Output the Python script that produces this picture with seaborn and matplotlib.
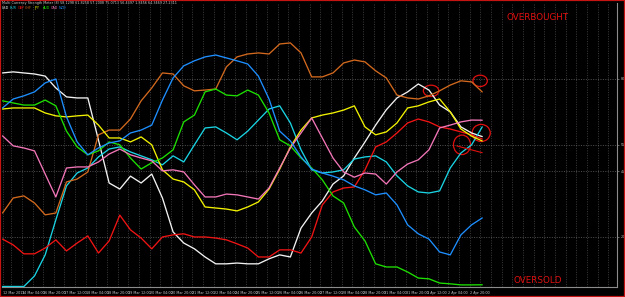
import matplotlib
matplotlib.use("Agg")
import matplotlib.pyplot as plt
import numpy as np
import pandas as pd
import seaborn as sns
from matplotlib.patches import Ellipse, Rectangle

# ---------------- data ----------------
currencies = ["USD", "EUR", "GBP", "CHF", "JPY", "AUD", "CAD", "NZD"]
colors = ["#f2f2f2", "#1ad3e3", "#f01414", "#d2691e", "#f2f200", "#1ee000", "#f276b8", "#1e8fff"]

bars = list(range(46))

usd = [82.3, 82.7, 82.3, 81.9, 81.1, 76.6, 73.2, 72.8, 72.8, 56.8, 40.5, 38.2, 43.1, 40.5, 43.9, 34.8,
       21.9, 17.7, 15.5, 12.4, 9.8, 9.8, 10.1, 9.8, 9.8, 11.7, 13.2, 12.4, 23.4, 29.1, 33.7, 40.1,
       43.2, 50.0, 56.1, 62.5, 68.3, 72.8, 75.1, 78.1, 75.8, 70.1, 67.5, 61.8, 59.5, 58.1298]
eur = [1.2, 1.2, 1.2, 5.2, 13.2, 26.5, 39.4, 44.3, 46.2, 50.4, 53.4, 54.2, 52.3, 50.8, 49.3, 47.4,
       50.8, 48.5, 55.0, 61.4, 61.8, 59.5, 56.9, 60.2, 64.4, 68.6, 69.8, 63.3, 53.1, 45.5, 44.3, 44.7,
       45.5, 49.6, 50.4, 50.8, 48.5, 43.2, 39.4, 37.1, 36.7, 37.5, 46.2, 51.9, 55.0, 61.8258]
gbp = [19.2, 17.0, 13.6, 13.6, 15.8, 18.9, 14.7, 17.7, 20.4, 13.9, 18.5, 28.3, 22.7, 19.6, 15.5, 20.0,
       20.8, 21.2, 20.0, 20.0, 19.6, 18.9, 17.4, 15.8, 12.4, 12.4, 15.1, 15.1, 13.9, 20.0, 32.2, 37.1,
       38.6, 39.0, 45.5, 54.2, 56.1, 59.5, 63.3, 64.8, 63.7, 61.8, 61.0, 59.9, 58.8, 57.2008]
chf = [29.1, 34.8, 35.6, 32.9, 28.4, 29.1, 40.9, 42.0, 44.7, 58.8, 60.6, 60.6, 64.8, 71.7, 76.6, 82.3,
       81.9, 77.4, 75.5, 75.8, 76.2, 84.6, 88.4, 89.5, 89.9, 89.5, 93.3, 93.7, 89.9, 80.8, 80.8, 82.3,
       86.1, 87.2, 86.5, 83.1, 80.4, 73.9, 72.8, 72.4, 73.6, 75.5, 77.7, 79.3, 78.9, 75.0713]
jpy = [68.6, 69.0, 69.0, 69.0, 67.1, 66.0, 65.6, 66.0, 66.3, 62.5, 57.6, 57.6, 56.1, 58.0, 55.0, 45.5,
       42.0, 40.9, 37.9, 31.4, 31.0, 30.6, 29.9, 31.4, 33.3, 38.2, 45.8, 54.2, 60.6, 65.2, 66.3, 67.1,
       68.2, 69.8, 61.8, 58.8, 59.9, 63.3, 69.0, 69.8, 71.3, 72.4, 67.5, 61.0, 58.3, 56.4497]
aud = [71.7, 70.9, 70.1, 70.1, 72.0, 69.8, 60.2, 54.2, 51.2, 52.7, 56.1, 55.0, 50.0, 45.8, 48.2, 50.0,
       53.1, 63.7, 66.3, 75.1, 76.2, 73.9, 73.6, 75.8, 73.9, 67.1, 56.9, 54.6, 50.0, 46.2, 41.7, 35.6,
       32.9, 23.8, 18.5, 9.8, 8.6, 8.6, 6.7, 4.4, 4.1, 2.5, 2.2, 1.8, 1.8, 1.8456]
cad = [58.4, 54.6, 53.8, 52.7, 43.9, 35.2, 46.2, 46.6, 46.6, 48.5, 51.5, 53.4, 51.2, 50.0, 48.9, 45.1,
       45.5, 44.7, 39.8, 35.2, 35.2, 36.3, 36.0, 35.2, 34.4, 38.6, 46.2, 53.8, 59.5, 65.2, 57.6, 50.0,
       44.7, 42.7, 44.3, 43.9, 40.1, 44.7, 47.7, 49.3, 53.1, 61.4, 62.5, 63.7, 64.4, 64.3469]
nzd = [69.0, 72.4, 73.6, 75.1, 78.5, 80.0, 65.6, 56.1, 51.2, 53.8, 55.7, 56.5, 59.5, 60.6, 62.5, 72.0,
       80.4, 85.0, 86.9, 88.4, 89.1, 88.0, 86.9, 85.7, 81.1, 72.4, 60.2, 56.5, 50.4, 45.8, 44.3, 43.1,
       41.7, 39.4, 37.9, 36.0, 36.7, 32.2, 24.6, 21.2, 19.2, 14.3, 13.2, 20.8, 24.6, 27.2311]

levels = [80, 55, 45, 20]
date_labels = ["12 Mar 2013", "14 Mar 04:00", "16 Mar 20:00", "17 Mar 12:00", "18 Mar 04:00",
               "18 Mar 20:00", "19 Mar 12:00", "20 Mar 04:00", "20 Mar 20:00", "21 Mar 12:00",
               "22 Mar 04:00", "24 Mar 20:00", "25 Mar 12:00", "26 Mar 04:00", "26 Mar 20:00",
               "27 Mar 12:00", "28 Mar 04:00", "28 Mar 20:00", "31 Mar 04:00", "31 Mar 20:00",
               "1 Apr 12:00", "2 Apr 04:00", "2 Apr 20:00"]

series = {"USD": usd, "EUR": eur, "GBP": gbp, "CHF": chf, "JPY": jpy, "AUD": aud, "CAD": cad, "NZD": nzd}
df = pd.concat([pd.DataFrame({"bar": bars, "strength": v, "currency": k}) for k, v in series.items()],
               ignore_index=True)
palette = dict(zip(currencies, colors))

# ---------------- style ----------------
sns.set_style("dark", rc={"axes.facecolor": "black", "figure.facecolor": "black"})
plt.rcParams["font.family"] = ["DejaVu Sans"]

fig = plt.figure(figsize=(6.25, 2.97), dpi=100, facecolor="black")
ax = fig.add_axes([2 / 625, 10 / 297, 615 / 625, 284 / 297])
ax.set_facecolor("black")

sns.lineplot(data=df, x="bar", y="strength", hue="currency", hue_order=currencies,
             palette=palette, legend=False, linewidth=0.95, ax=ax)

ax.set_xlim(-0.05, 57.64)
ax.set_ylim(1.0, 108.86)
ax.set_xlabel("")
ax.set_ylabel("")

# grid (vertical dotted every interval, labels every second)
off = 0.1875
major = [max(k - off, 0.0) for k in range(0, 46, 2)]
minor = [k - off for k in range(1, 58, 2)] + [k - off for k in range(46, 58, 2)]
ax.set_xticks(major)
ax.set_xticklabels(date_labels, fontsize=2.4, color="#c4c4c4", ha="left")
ax.set_xticks(minor, minor=True)
ax.tick_params(axis="x", which="major", length=2, width=0.5, color="#909090", pad=1.2)
ax.tick_params(axis="x", which="minor", length=0)
ax.grid(True, which="both", axis="x", color="#4e4e4e", linestyle=(0, (1.5, 2)), linewidth=0.5)

ax.set_yticks(levels)
ax.set_yticklabels([str(v) for v in levels], fontsize=2.4, color="#c4c4c4")
ax.yaxis.tick_right()
ax.tick_params(axis="y", length=1.5, width=0.5, color="#909090", pad=1)
ax.grid(True, which="major", axis="y", color="#6c6c6c", linestyle=(0, (1.5, 2)), linewidth=0.5)
ax.set_axisbelow(True)

for side in ["left", "top"]:
    ax.spines[side].set_visible(False)
for side in ["right", "bottom"]:
    ax.spines[side].set_visible(True)
    ax.spines[side].set_color("#8c8c8c")
    ax.spines[side].set_linewidth(0.8)

# header
last_vals = [series[c][-1] for c in currencies]
header = "Multi Currency Strength Meter (8) " + " ".join(f"{v:.4f}" for v in last_vals)
fig.text(2 / 625, 1 - 1.2 / 297, header, fontsize=2.4, color="#cfcfcf", va="top", ha="left")
name_x = [1.5, 10, 17.5, 25, 34.5, 43, 51, 58.5]
for nx, c, col in zip(name_x, currencies, colors):
    fig.text(nx / 625, 1 - 6 / 297, c, fontsize=2.4, color=col, va="top", ha="left")

# hand-drawn style annotations
red = "#e01010"
ax.text(50.2, 103.4, "OVERBOUGHT", color=red, fontsize=6.3, ha="center", va="center")
ax.text(50.2, 3.4, "OVERSOLD", color=red, fontsize=6.3, ha="center", va="center")
for (cx, cy, w, h) in [(40.2, 75.5, 1.45, 4.3), (44.8, 79.3, 1.35, 4.3),
                       (44.9, 59.5, 1.7, 6.5), (43.1, 55.0, 1.6, 7.4)]:
    ax.add_patch(Ellipse((cx, cy), w, h, fill=False, edgecolor=red, linewidth=0.9))
ax.plot([42.6, 45.0], [54.6, 52.0], color=red, linewidth=0.8)

# window frame
fig.add_artist(Rectangle((0, 0), 1, 1, transform=fig.transFigure, fill=False,
                         edgecolor="#c41414", linewidth=1.6))

fig.savefig("out.png", dpi=100, facecolor="black")
